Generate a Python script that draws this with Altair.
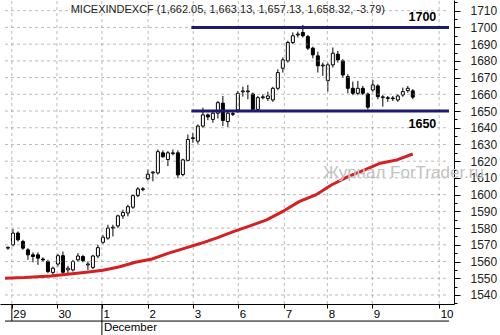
import altair as alt
import pandas as pd

# ---- candle data (hourly, 29 Nov - 9 Dec) ----
opens = [1568, 1570, 1577, 1572, 1567, 1564, 1564, 1561.5, 1560, 1553.5,
         1558.5, 1563.5, 1555, 1555, 1561, 1563, 1558, 1556.5, 1563.3, 1571.5,
         1574, 1580, 1581.3, 1587.3, 1589, 1592.5, 1599.4, 1603, 1609.5, 1613,
         1613, 1625, 1621, 1624.5, 1625, 1612, 1620.5, 1633.5, 1632, 1641,
         1647.7, 1645, 1648.7, 1654.7, 1643.7, 1648, 1650.7, 1661.5, 1661.5, 1660.2,
         1651, 1658, 1657.5, 1656.6, 1663.6, 1675.6, 1680, 1691, 1695.5, 1697,
         1694.5, 1687.6, 1683, 1677, 1668.2, 1677.6, 1684, 1680, 1670.6, 1663.6,
         1660.6, 1663.6, 1660.2, 1662.6, 1665, 1658, 1657.5, 1657.8, 1656.6, 1659.6,
         1662.2, 1662.05]
highs = [1569, 1579.5, 1578, 1573, 1568, 1565.5, 1565.5, 1562.5, 1561, 1557,
         1564.5, 1566, 1557.5, 1561, 1565, 1564, 1560, 1564, 1570, 1576,
         1582, 1582, 1588, 1591, 1594, 1600, 1604.5, 1604.5, 1615, 1614,
         1627, 1626.5, 1626, 1627, 1626.5, 1621.5, 1636, 1637, 1642, 1652,
         1648.5, 1650, 1656, 1659, 1650, 1650, 1662, 1664.6, 1665.6, 1661,
         1659, 1660, 1661.5, 1664.5, 1675, 1682, 1692, 1697, 1697.5, 1701.5,
         1695.5, 1688.5, 1685.5, 1679, 1679, 1688, 1686, 1681, 1672, 1667.6,
         1668, 1665, 1661, 1668.6, 1666, 1659.5, 1659, 1659, 1660, 1664,
         1665, 1663.13]
lows = [1567, 1569, 1572, 1567, 1561, 1559.5, 1558, 1560, 1553, 1552,
        1557, 1552.5, 1553, 1554, 1560, 1559.5, 1555, 1555.5, 1562, 1570.5,
        1573, 1575, 1580, 1585.5, 1587, 1591.5, 1598.5, 1602, 1608.5, 1608,
        1612, 1622, 1617, 1623.5, 1609.8, 1611, 1620, 1631, 1630.5, 1640,
        1644.5, 1643, 1645.5, 1641, 1640.5, 1647, 1649, 1658.6, 1657, 1650,
        1650, 1657, 1656, 1655.5, 1662.5, 1673, 1679, 1690, 1694, 1694,
        1686.5, 1681.5, 1673, 1671, 1661.6, 1676, 1679, 1670, 1660.6, 1659.5,
        1659.5, 1659.5, 1651, 1661.5, 1657, 1652.6, 1655.5, 1656, 1655.5, 1658.5,
        1661, 1657.13]
closes = [1568.5, 1577, 1573, 1568, 1564, 1563, 1562, 1561, 1554, 1556,
          1563.5, 1553.6, 1556, 1560, 1563.3, 1560.5, 1558.5, 1563.3, 1568.3, 1574.5,
          1580, 1580.5, 1587.3, 1589.3, 1592.8, 1599.4, 1603.4, 1603.5, 1612.2, 1613.5,
          1625.7, 1622.7, 1625, 1625, 1611.8, 1620.8, 1633, 1634, 1641, 1647.7,
          1646.5, 1648.7, 1655, 1644.3, 1648.7, 1648.5, 1660.6, 1662, 1662, 1651,
          1658, 1658.5, 1659, 1663.6, 1673, 1680.6, 1691, 1695, 1696, 1695,
          1687.6, 1683.6, 1677, 1677.5, 1677.6, 1684.6, 1680.6, 1671.6, 1663.6, 1660.6,
          1663.6, 1660.6, 1652.3, 1665.6, 1658.6, 1658.5, 1658, 1657.4, 1659, 1661.6,
          1663.6, 1658.32]

# ---- moving average ----
ma_x = [-0.59, 3.33, 8.63, 15.69, 19.02, 22.35, 25.49, 28.82, 32.16, 35.29, 38.63,
        41.96, 45.10, 48.43, 51.76, 54.90, 58.24, 61.57, 64.71, 68.04, 71.37,
        74.51, 77.84, 80.98]
ma_val = [1550.0, 1550.4, 1551.4, 1553.6, 1554.8, 1556.9, 1559.6, 1561.5, 1565.0,
          1567.9, 1570.9, 1574.3, 1577.9, 1581.3, 1584.9, 1589.8, 1595.8, 1599.8,
          1605.8, 1610.8, 1614.8, 1618.8, 1620.8, 1624.3]

# ---- axis labels ----
day_pos = [0.78, 9.8, 18.8, 28.04, 37.06, 46.08, 55.3, 63.9, 72.9, 86.27]
day_labels = ["29", "30", "1", "2", "3", "6", "7", "8", "9", "10"]
month_label = "December"
y_ticks = list(range(1535, 1720, 5))
y_grid = list(range(1540, 1720, 10))

levels = [1700, 1650]
level_text = ["1700", "1650"]
level_text_y = [1706.0, 1642.3]
level_start = 36.7

X_DOM = [-0.59, 88.24]
Y_DOM = [1534.6, 1716.4]
FONT = "Liberation Sans"
GRID = "#8c8c8c"

n = len(opens)
df = pd.DataFrame({
    "i": list(range(n)),
    "open": opens, "high": highs, "low": lows, "close": closes,
})
df["up"] = df["close"] >= df["open"]

xs = alt.Scale(domain=X_DOM, nice=False, zero=False)
ys = alt.Scale(domain=Y_DOM, nice=False, zero=False)

label_expr = "[" + ",".join(f"'{l}'" for l in day_labels) + "][indexof([" + \
    ",".join(str(p) for p in day_pos) + "], datum.value)]"

x_axis = alt.Axis(values=day_pos, tickCount=50, labelExpr=label_expr, title=None,
                  grid=False, domainColor="black",
                  tickColor="black", tickSize=4, labelAlign="left", labelOffset=1,
                  labelBaseline="top", labelPadding=0, labelFlush=False,
                  labelOverlap=False, labelFont=FONT, labelFontSize=11.5,
                  labelColor="black", orient="bottom")
y_axis = alt.Axis(values=y_ticks, tickCount=50, format="d", orient="right", title=None,
                  labelExpr="datum.value % 10 == 0 ? datum.label : ''",
                  grid=False,
                  tickSize=alt.condition("datum.value % 10 != 0", alt.value(3), alt.value(6)),
                  domainColor="black", tickColor="black", labelPadding=10,
                  labelFlush=False, labelOverlap=False, labelFont=FONT,
                  labelFontSize=12, labelColor="#222222", labelBaseline="middle")

wicks = alt.Chart(df).mark_rule(color="black", strokeWidth=1).encode(
    x=alt.X("i:Q", scale=xs, axis=x_axis),
    y=alt.Y("low:Q", scale=ys, axis=y_axis),
    y2="high:Q",
)

bodies = alt.Chart(df).mark_bar(size=3, stroke="black", strokeWidth=1, orient="vertical").encode(
    x=alt.X("i:Q", scale=xs),
    y=alt.Y("open:Q", scale=ys),
    y2="close:Q",
    fill=alt.condition("datum.up", alt.value("white"), alt.value("black")),
)

# dashed grid drawn from the tick arrays
gx_df = pd.DataFrame({"gx": day_pos, "gy1": [Y_DOM[0]] * len(day_pos),
                      "gy2": [Y_DOM[1]] * len(day_pos)})
grid_x = alt.Chart(gx_df).mark_rule(color=GRID, strokeWidth=1, strokeDash=[3, 3],
                                    opacity=0.6).encode(
    x=alt.X("gx:Q", scale=xs),
    y=alt.Y("gy1:Q", scale=ys),
    y2="gy2:Q",
)
gy_df = pd.DataFrame({"gy": y_grid, "gx1": [X_DOM[0]] * len(y_grid),
                      "gx2": [X_DOM[1]] * len(y_grid)})
grid_y = alt.Chart(gy_df).mark_rule(color=GRID, strokeWidth=1, strokeDash=[3, 3],
                                    opacity=0.6).encode(
    x=alt.X("gx1:Q", scale=xs), x2="gx2:Q", y=alt.Y("gy:Q", scale=ys))

ma_df = pd.DataFrame({"x": ma_x, "v": ma_val})
ma = alt.Chart(ma_df).mark_line(color="#d42020", strokeWidth=3).encode(
    x=alt.X("x:Q", scale=xs), y=alt.Y("v:Q", scale=ys))

lv_df = pd.DataFrame({"v": levels, "x1": [level_start] * 2, "x2": [X_DOM[1]] * 2,
                      "t": level_text, "ty": level_text_y, "tx": [85.7] * 2})
lv = alt.Chart(lv_df).mark_rule(color="#1b1b72", strokeWidth=3).encode(
    x=alt.X("x1:Q", scale=xs), x2="x2:Q", y=alt.Y("v:Q", scale=ys))
lv_txt = alt.Chart(lv_df).mark_text(align="right", baseline="middle", font=FONT,
                                    fontSize=12.5, fontWeight="bold", color="black").encode(
    x=alt.X("tx:Q", scale=xs), y=alt.Y("ty:Q", scale=ys), text="t:N")

last = n - 1
title_str = "MICEXINDEXCF ({:,.2f}, {:,.2f}, {:,.2f}, {:,.2f}, {:.2f})".format(
    opens[last], highs[last], lows[last], closes[last], -3.79)
ann_df = pd.DataFrame({"x": [12.55], "y": [1710.4], "t": [title_str]})
title_txt = alt.Chart(ann_df).mark_text(align="left", baseline="middle", font=FONT,
                                        fontSize=11, color="#222222").encode(
    x=alt.X("x:Q", scale=xs), y=alt.Y("y:Q", scale=ys), text="t:N")

wm_df = pd.DataFrame({"x": [63.1], "y": [1613.0], "t": ["Журнал ForTrader.ru"]})
wm = alt.Chart(wm_df).mark_text(align="left", baseline="middle", font=FONT,
                                fontSize=17, color="#c2c2c2").encode(
    x=alt.X("x:Q", scale=xs), y=alt.Y("y:Q", scale=ys), text="t:N")

# bottom date-scale frame: separators and line beneath day labels
sep_df = pd.DataFrame({"x": [day_pos[0], day_pos[2]], "y1": [Y_DOM[0]] * 2,
                       "y2": [1524.4, 1516.0]})
seps = alt.Chart(sep_df).mark_rule(color="black", strokeWidth=1).encode(
    x=alt.X("x:Q", scale=xs), y=alt.Y("y1:Q", scale=ys), y2="y2:Q")
base_df = pd.DataFrame({"x1": [X_DOM[0]], "x2": [X_DOM[1]], "y": [1524.4]})
base_line = alt.Chart(base_df).mark_rule(color="black", strokeWidth=1).encode(
    x=alt.X("x1:Q", scale=xs), x2="x2:Q", y=alt.Y("y:Q", scale=ys))
mon_df = pd.DataFrame({"x": [19.2], "y": [1520.2], "t": [month_label]})
mon = alt.Chart(mon_df).mark_text(align="left", baseline="middle", font=FONT,
                                  fontSize=11.5, color="black").encode(
    x=alt.X("x:Q", scale=xs), y=alt.Y("y:Q", scale=ys), text="t:N")

chart = alt.layer(wicks, bodies, grid_x, grid_y, ma, wm, lv, lv_txt, title_txt,
                  seps, base_line, mon).properties(
    width=454, height=304, autosize="none",
    padding={"left": 0, "top": 0, "right": 46, "bottom": 31},
    background="white",
).configure_view(strokeWidth=0)

chart.save("out.html", embed_options={"renderer": "svg", "actions": False})
